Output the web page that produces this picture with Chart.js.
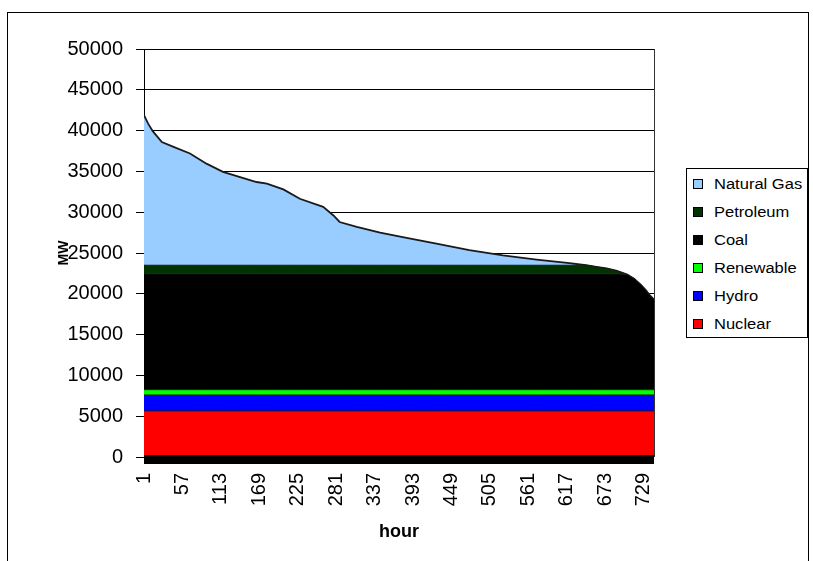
<!DOCTYPE html>
<html>
<head>
<meta charset="utf-8">
<title>Load duration curve</title>
<script src="https://cdn.jsdelivr.net/npm/chart.js@4.4.1/dist/chart.umd.min.js"></script>
<style>
  html, body { margin: 0; padding: 0; background: #fff; overflow: hidden; }
  #wrap { position: relative; width: 813px; height: 561px; }
  #frame { position: absolute; left: 7px; top: 12px; width: 802px; height: 600px; border: 1px solid #000; box-sizing: border-box; }
  #chartBox { position: absolute; left: 0; top: 0; width: 813px; height: 561px; }
  #legend { position: absolute; left: 686px; top: 168px; width: 122px; height: 170px; border: 1px solid #000; box-sizing: border-box; background: #fff;
            font-family: 'Liberation Sans', Arial, sans-serif; font-size: 14px; color: #000; }
  .item { position: absolute; left: 6px; height: 14px; line-height: 14px; white-space: nowrap; }
  .mark { display: inline-block; width: 8px; height: 8px; border: 1px solid #000; vertical-align: middle; }
  .txt { display: inline-block; vertical-align: middle; margin-left: 11px; transform: scaleX(1.18); transform-origin: left center; }
</style>
</head>
<body>
<div id="wrap">
  <div id="frame"></div>
  <div id="chartBox"><canvas id="myChart"></canvas></div>
  <div id="legend"></div>
</div>
<script>
// hours of the month, sorted by load
const hours = [1, 7, 14, 27, 44, 68, 92, 116, 141, 165, 180, 204, 228, 262, 277, 286, 311, 345, 378, 427,
               475, 524, 573, 621, 645, 660, 675, 690, 705, 715, 725, 732, 738, 744];

// MW by source
const nuclear = [5650, 5650, 5650, 5650, 5650, 5650, 5650, 5650, 5650, 5650, 5650, 5650, 5650, 5650, 5650, 5650, 5650,
                 5650, 5650, 5650, 5650, 5650, 5650, 5650, 5650, 5650, 5650, 5650, 5650, 5650, 5650, 5650, 5650, 5650];
const hydro = [1950, 1950, 1950, 1950, 1950, 1950, 1950, 1950, 1950, 1950, 1950, 1950, 1950, 1950, 1950, 1950, 1950,
               1950, 1950, 1950, 1950, 1950, 1950, 1950, 1950, 1950, 1950, 1950, 1950, 1950, 1950, 1950, 1950, 1950];
const renewable = [650, 650, 650, 650, 650, 650, 650, 650, 650, 650, 650, 650, 650, 650, 650, 650, 650,
                   650, 650, 650, 650, 650, 650, 650, 650, 650, 650, 650, 650, 650, 650, 650, 650, 650];
const coal = [14200, 14200, 14200, 14200, 14200, 14200, 14200, 14200, 14200, 14200, 14200, 14200, 14200, 14200,
              14200, 14200, 14200, 14200, 14200, 14200, 14200, 14200, 14200, 14200, 14200, 14200, 14200, 14200,
              14100, 13600, 12850, 12200, 11550, 11050];
const petroleum = [1050, 1050, 1050, 1050, 1050, 1050, 1050, 1050, 1050, 1050, 1050, 1050, 1050, 1050, 1050, 1050,
                   1050, 1050, 1050, 1050, 1050, 1050, 1050, 1050, 1050, 850, 650, 350, 0, 0, 0, 0, 0, 0];
const naturalGas = [18400, 17350, 16400, 15100, 14500, 13700, 12450, 11450, 10800, 10200, 10000, 9300, 8150, 7150,
                    6100, 5300, 4700, 4000, 3450, 2650, 1850, 1200, 700, 250, 0, 0, 0, 0, 0, 0, 0, 0, 0, 0];

const xTicks = [1, 57, 113, 169, 225, 281, 337, 393, 449, 505, 561, 617, 673, 729];

const series = [
    { label: 'Nuclear', data: nuclear, color: '#ff0000' },
    { label: 'Hydro', data: hydro, color: '#0000ff' },
    { label: 'Renewable', data: renewable, color: '#00ff00' },
    { label: 'Coal', data: coal, color: '#000000' },
    { label: 'Petroleum', data: petroleum, color: '#003300' },
    { label: 'Natural Gas', data: naturalGas, color: '#99ccff' }
];

document.addEventListener('DOMContentLoaded', function(){
    iniciarApp();
});

function iniciarApp(){
    Chart.defaults.font.family = "'Liberation Sans', Arial, sans-serif";
    Chart.defaults.color = '#000';
    dibujarGrafica();
    dibujarLeyenda();
}

// thick black line under the category axis + right edge of the plot
const bordes = {
    id: 'bordes',
    afterDatasetsDraw(chart){
        const ctx = chart.ctx;
        const area = chart.chartArea;
        const y0 = chart.scales.y.getPixelForValue(0);
        ctx.save();
        ctx.fillStyle = '#000';
        ctx.fillRect(area.left, y0 - 2, area.right - area.left, 9);
        ctx.strokeStyle = '#333';
        ctx.lineWidth = 1;
        ctx.beginPath();
        ctx.moveTo(area.right + 0.5, area.top);
        ctx.lineTo(area.right + 0.5, area.bottom);
        ctx.stroke();
        ctx.restore();
    }
};

function dibujarGrafica(){
    const datasets = series.map((s, i) => ({
        label: s.label,
        data: hours.map((h, j) => ({ x: h, y: s.data[j] })),
        backgroundColor: s.color,
        borderColor: '#1a1a1a',
        borderWidth: i === series.length - 1 ? 1.8 : 1,
        pointRadius: 0,
        tension: 0,
        fill: i === 0 ? 'origin' : '-1'
    }));

    const ctx = document.getElementById('myChart').getContext('2d');
    new Chart(ctx, {
        type: 'line',
        data: { datasets: datasets },
        options: {
            responsive: true,
            maintainAspectRatio: false,
            animation: false,
            layout: { padding: { left: 52, right: 159, top: 49, bottom: 14 } },
            plugins: {
                legend: { display: false },
                tooltip: { enabled: false }
            },
            scales: {
                x: {
                    type: 'linear',
                    min: 1,
                    max: 744,
                    grid: { display: false, drawTicks: false },
                    border: { display: false },
                    afterBuildTicks: scale => { scale.ticks = xTicks.map(v => ({ value: v })); },
                    afterFit: scale => { scale.height = 90; },
                    ticks: {
                        autoSkip: false,
                        minRotation: 90,
                        maxRotation: 90,
                        padding: 16,
                        font: { size: 20 },
                        callback: v => String(v)
                    },
                    title: { display: true, text: 'hour', font: { size: 18, weight: 'bold' }, padding: 4 }
                },
                y: {
                    stacked: true,
                    min: 0,
                    max: 50000,
                    afterFit: scale => { scale.width = 92; },
                    grid: { color: '#000', lineWidth: 1, drawTicks: true, tickLength: 8 },
                    border: { display: true, color: '#000', width: 1 },
                    ticks: {
                        stepSize: 5000,
                        padding: 13,
                        font: { size: 20 },
                        callback: v => String(v)
                    },
                    title: { display: true, text: 'MW', font: { size: 14, weight: 'bold' }, padding: 4 }
                }
            }
        },
        plugins: [bordes]
    });
}

function dibujarLeyenda(){
    const leyenda = document.getElementById('legend');
    const orden = series.slice().reverse();
    orden.forEach((s, i) => {
        const item = document.createElement('div');
        item.className = 'item';
        item.style.top = (183 + i * 27.9 - 7 - 169) + 'px';
        item.innerHTML = '<span class="mark" style="background:' + s.color + '"></span><span class="txt">' + s.label + '</span>';
        leyenda.appendChild(item);
    });
}
</script>
</body>
</html>
